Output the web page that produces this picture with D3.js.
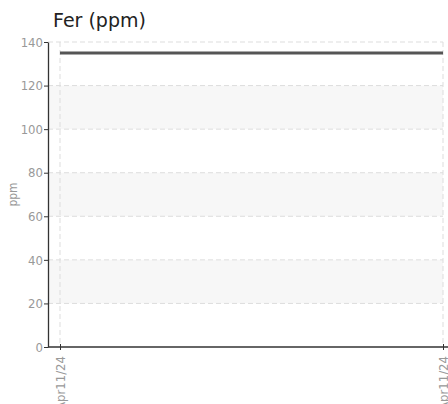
<!DOCTYPE html>
<html>
<head>
<meta charset="utf-8">
<script src="https://cdn.jsdelivr.net/npm/d3@7"></script>
<style>
  body { margin: 0; background: #fff; }
  .axis text { font-family: "DejaVu Sans Condensed", "Liberation Sans Narrow", sans-serif; font-stretch: condensed; font-size: 13px; fill: #999; }
</style>
</head>
<body>
<svg id="chart"></svg>
<script>
// values
const dates = ["2024-04-11T00:00", "2024-04-11T23:59"];
const values = [135, 135];
const yTicks = [0, 20, 40, 60, 80, 100, 120, 140];
const bands = [[20, 40], [60, 80], [100, 120]];

const width = 448, height = 404;
const margin = {top: 42, right: 5, bottom: 57, left: 48};
const innerW = width - margin.left - margin.right;
const innerH = height - margin.top - margin.bottom;

const parse = d3.timeParse("%Y-%m-%dT%H:%M");
const data = dates.map((d, i) => ({date: parse(d), value: values[i]}));

const svg = d3.select("#chart")
    .attr("width", width)
    .attr("height", height);

const chart = svg.append("g")
    .attr("transform", `translate(${margin.left},${margin.top})`);

const xScale = d3.scaleTime()
    .domain(d3.extent(data, d => d.date))
    .range([12, innerW - 0]);

const yScale = d3.scaleLinear()
    .domain([0, 140])
    .range([innerH, 0]);

// shaded bands
chart.selectAll(".band")
    .data(bands)
    .join("rect")
    .attr("class", "band")
    .attr("x", 0)
    .attr("width", xScale.range()[1])
    .attr("y", d => yScale(d[1]))
    .attr("height", d => yScale(d[0]) - yScale(d[1]))
    .attr("fill", "#f7f7f7");

// horizontal grid
chart.selectAll(".hgrid")
    .data(yTicks.slice(1))
    .join("line")
    .attr("class", "hgrid")
    .attr("x1", 0)
    .attr("x2", xScale.range()[1])
    .attr("y1", d => yScale(d))
    .attr("y2", d => yScale(d))
    .attr("stroke", "#ddd")
    .attr("stroke-dasharray", "5,3");

// vertical grid
chart.selectAll(".vgrid")
    .data(data)
    .join("line")
    .attr("class", "vgrid")
    .attr("x1", d => xScale(d.date))
    .attr("x2", d => xScale(d.date))
    .attr("y1", 0)
    .attr("y2", innerH)
    .attr("stroke", "#ddd")
    .attr("stroke-dasharray", "5,3");

// line
const line = d3.line()
    .x(d => xScale(d.date))
    .y(d => yScale(d.value));

chart.append("path")
    .datum(data)
    .attr("d", line)
    .attr("fill", "none")
    .attr("stroke", "#555")
    .attr("stroke-width", 3);

// axes
const yAxis = d3.axisLeft(yScale)
    .tickValues(yTicks)
    .tickSize(4)
    .tickSizeOuter(0);

const yAxisG = chart.append("g")
    .attr("class", "axis y-axis")
    .call(yAxis);
yAxisG.select(".domain").attr("stroke", "#333").attr("stroke-width", 1.3);
yAxisG.selectAll(".tick line").attr("stroke", "#333");
yAxisG.selectAll(".tick text").attr("x", -5);

const xAxis = d3.axisBottom(xScale)
    .tickValues(data.map(d => d.date))
    .tickFormat(d3.timeFormat("%b%d/%y"))
    .tickSize(4)
    .tickSizeOuter(0);

const xAxisG = chart.append("g")
    .attr("class", "axis x-axis")
    .attr("transform", `translate(0,${innerH})`)
    .call(xAxis);
xAxisG.select(".domain")
    .attr("d", `M0,0H${width - margin.left}`)
    .attr("stroke", "#333")
    .attr("stroke-width", 1.3);
xAxisG.selectAll(".tick line")
    .attr("stroke", "#333")
    .attr("y1", -3)
    .attr("y2", 3);
xAxisG.selectAll(".tick text")
    .attr("transform", "rotate(-90)")
    .attr("text-anchor", "end")
    .attr("x", -9)
    .attr("y", 0)
    .attr("dy", "0.35em");

// axis title
svg.append("text")
    .attr("transform", `translate(17,${margin.top + yScale(70)}) rotate(-90)`)
    .attr("text-anchor", "middle")
    .style("font-family", "'DejaVu Sans Condensed', sans-serif")
    .style("font-stretch", "condensed")
    .style("font-size", "12px")
    .style("fill", "#999")
    .text("ppm");

// chart title
svg.append("text")
    .attr("x", 53)
    .attr("y", 27)
    .style("font-family", "'DejaVu Sans', sans-serif")
    .style("font-size", "19px")
    .style("fill", "#222")
    .text("Fer (ppm)");
</script>
</body>
</html>
